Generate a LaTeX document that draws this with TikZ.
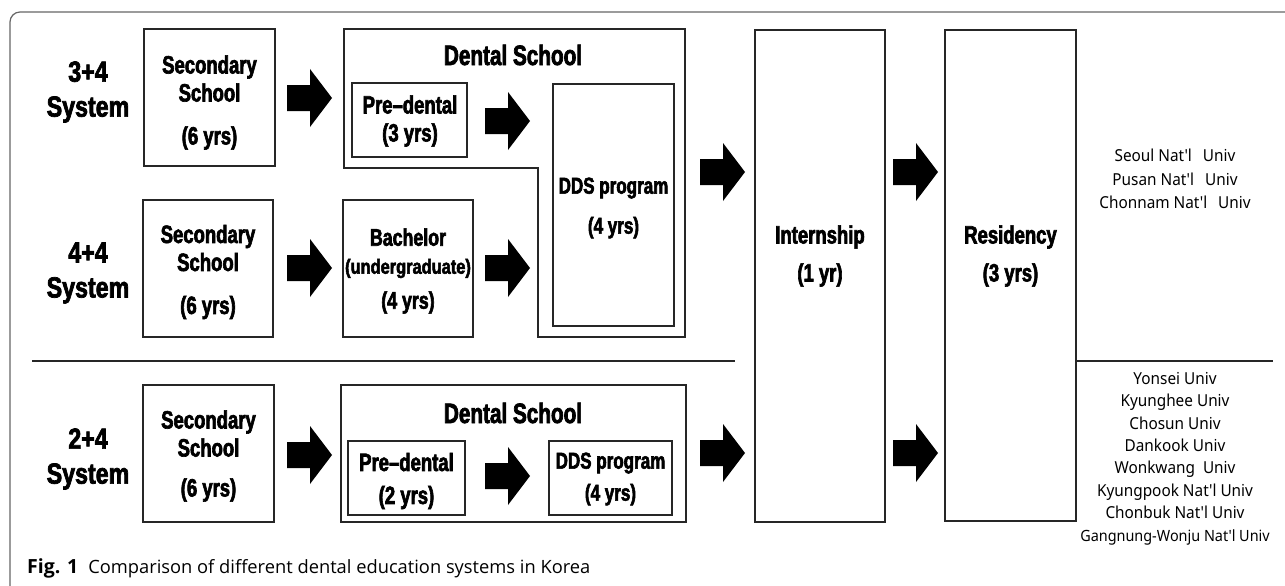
\documentclass[tikz,border=0pt]{standalone}
\usepackage{fontspec}
\newfontfamily\boxf{Liberation Sans}[FakeStretch=0.74,FakeBold=2.5]
\newfontfamily\boxw{Liberation Sans}[FakeStretch=0.8,FakeBold=2.5]
\newfontfamily\labf{Liberation Sans}[FakeStretch=0.8,FakeBold=2.5]
\newfontfamily\unif{Noto Sans}[FakeStretch=0.93]
\newfontfamily\capf{Open Sans}
\begin{document}
\begin{tikzpicture}[x=1pt,y=-1pt,
  box/.style={draw=black!85,line width=1.2pt,inner sep=0pt,outer sep=0pt},
  bt/.style={font=\boxf\bfseries,align=center,inner sep=0pt},
  lt/.style={font=\labf\bfseries\fontsize{29}{35}\selectfont,align=center,inner sep=0pt},
  ut/.style={font=\unif\fontsize{16.5}{23.5}\selectfont,align=center,inner sep=0pt},
  divider/.style={draw=black!85,line width=1.2pt},
  barrow/.pic={\fill[black] (0,-13) -- (23,-13) -- (23,-29) -- (45,0) -- (23,29) -- (23,13) -- (0,13) -- cycle;}
]
\useasboundingbox (0,0) rectangle (1285,586);
\clip (0,0) rectangle (1285,586);
% outer frame
\draw[draw=black!60,line width=1.2pt,rounded corners=10pt] (10,620) -- (10,12) -- (1320,12);

% row labels
\node[lt] (lab1) at (88,92) {3+4\\System};
\node[lt] (lab2) at (88,273) {4+4\\System};
\node[lt] (lab3) at (88,459) {2+4\\System};

% secondary schools
\node[box,minimum width=131,minimum height=137] (sec1) at (209.5,97.5) {};
\node[box,minimum width=130,minimum height=137] (sec2) at (208,268.5) {};
\node[box,minimum width=131,minimum height=137] (sec3) at (208.5,453.5) {};
\node[bt,font=\boxf\bfseries\fontsize{25}{28}\selectfont] (sec1t) at (209.5,102.5) {Secondary\\School\\[15pt](6 yrs)};
\node[bt,font=\boxf\bfseries\fontsize{25}{28}\selectfont] (sec2t) at (208,272) {Secondary\\School\\[15pt](6 yrs)};
\node[bt,font=\boxf\bfseries\fontsize{25}{28}\selectfont] (sec3t) at (208.5,456) {Secondary\\School\\[12pt](6 yrs)};

% dental school 3+4 / 4+4 (L shape)
\draw[divider] (344,29) -- (685,29) -- (685,337) -- (538,337) -- (538,168) -- (344,168) -- cycle;
\node[bt,font=\boxf\bfseries\fontsize{28}{30}\selectfont] (ds1t) at (513,55) {Dental School};
\node[box,minimum width=115,minimum height=74] (pre1) at (409.5,120) {};
\node[bt,font=\boxf\bfseries\fontsize{25}{28}\selectfont] (pre1t) at (410,121) {Pre–dental\\(3 yrs)};
\node[box,minimum width=121,minimum height=242] (dds1) at (613.5,205) {};
\node[bt,font=\boxf\bfseries\fontsize{23}{26}\selectfont] (dds1t) at (613.5,208) {DDS program\\[14pt](4 yrs)};
\node[box,minimum width=130,minimum height=137] (bach) at (408,268.5) {};
\node[bt,font=\boxf\bfseries\fontsize{24}{28}\selectfont] (bacht) at (408,271) {Bachelor\\{\boxw\fontsize{20.5}{28}\selectfont (undergraduate)}\\[7pt](4 yrs)};

% dental school 2+4
\node[box,minimum width=345,minimum height=137] (ds2) at (513.5,453.5) {};
\node[bt,font=\boxf\bfseries\fontsize{28}{30}\selectfont] (ds2t) at (513,413) {Dental School};
\node[box,minimum width=117,minimum height=74] (pre2) at (406.5,478) {};
\node[bt,font=\boxf\bfseries\fontsize{25}{33}\selectfont] (pre2t) at (406.5,481) {Pre–dental\\(2 yrs)};
\node[box,minimum width=123,minimum height=74] (dds2) at (610.5,478) {};
\node[bt,font=\boxf\bfseries\fontsize{23}{32}\selectfont] (dds2t) at (610.5,479) {DDS program\\(4 yrs)};

% internship, residency
\node[box,minimum width=130,minimum height=492] (intern) at (820,276) {};
\node[bt,font=\boxf\bfseries\fontsize{25}{38}\selectfont] (internt) at (820,256) {Internship\\(1 yr)};
\node[box,minimum width=131,minimum height=491] (resid) at (1010.5,275.5) {};
\node[bt,font=\boxf\bfseries\fontsize{25}{38}\selectfont] (residt) at (1010.5,256) {Residency\\(3 yrs)};

% dividers
\coordinate (dl1) at (32,361);
\coordinate (dl2) at (735,361);
\coordinate (dr2) at (1273,361);
\draw[divider] (dl1) -- (dl2);
\draw[divider] (resid.east |- dr2) -- (dr2);

% block arrows
\pic at (287,98) {barrow};
\pic at (485,121) {barrow};
\pic at (287,268) {barrow};
\pic at (485,268) {barrow};
\pic at (287,455) {barrow};
\pic at (485,476) {barrow};
\pic at (700,172) {barrow};
\pic at (700,453) {barrow};
\pic at (893,172) {barrow};
\pic at (893,453) {barrow};

% universities
\node[ut] (uni1) at (1175,179) {Seoul Nat'l\hspace{11pt}Univ\\Pusan Nat'l\hspace{11pt}Univ\\Chonnam Nat'l\hspace{11pt}Univ};
\node[ut,font=\unif\fontsize{16.5}{22.4}\selectfont] (uni2) at (1175,458.5) {Yonsei Univ\\Kyunghee Univ\\Chosun Univ\\Dankook Univ\\Wonkwang\ \ Univ\\Kyungpook Nat'l Univ\\Chonbuk Nat'l Univ\\{\fontsize{15.5}{22.4}\selectfont Gangnung-Wonju Nat'l Univ}};

% caption
\node[anchor=west,inner sep=0pt,font=\capf\fontsize{18.3}{20}\selectfont] (cap) at (27,568) {{\fontsize{19.5}{20}\selectfont\bfseries Fig. 1}\hspace{10pt}Comparison of different dental education systems in Korea};
\end{tikzpicture}
\end{document}
